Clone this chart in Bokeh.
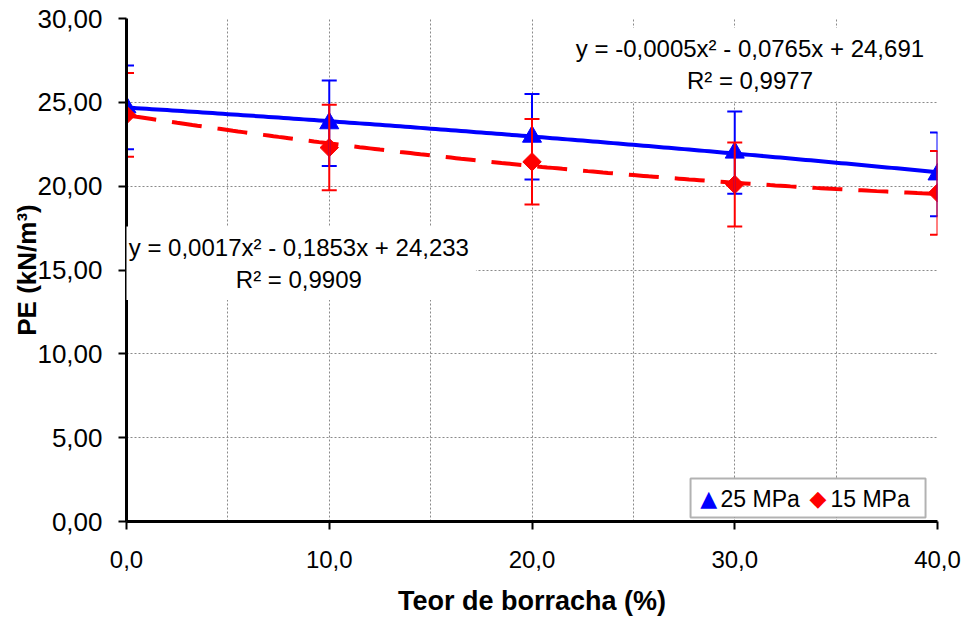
import numpy as np
from bokeh.plotting import figure
from bokeh.models import (Range1d, FixedTicker, ColumnDataSource, Whisker, TeeHead,
                          Label, Grid, BoxAnnotation)
from bokeh.embed import file_html
from bokeh.resources import INLINE

# ---- data ----
rubber_pct = [0, 10, 20, 30, 40]
pe_25mpa = [24.7, 23.75, 22.95, 22.0, 20.7]
err_25mpa = [2.5, 2.55, 2.55, 2.45, 2.5]
pe_15mpa = [24.25, 22.3, 21.45, 20.1, 19.6]
err_15mpa = [2.5, 2.55, 2.55, 2.5, 2.5]
# trendline coefficients printed on the chart (x^2, x, 1)
trend_25_coef = [-0.0005, -0.0765, 24.691]
trend_15_coef = [0.0017, -0.1853, 24.233]
trend_25_text = "y = -0,0005x² - 0,0765x + 24,691\nR² = 0,9977"
trend_15_text = "y = 0,0017x² - 0,1853x + 24,233\nR² = 0,9909"
x_ticks = [0, 10, 20, 30, 40]
x_tick_labels = ["0,0", "10,0", "20,0", "30,0", "40,0"]
y_ticks = [0, 5, 10, 15, 20, 25, 30]
y_tick_labels = ["0,00", "5,00", "10,00", "15,00", "20,00", "25,00", "30,00"]
x_grid = [0, 5, 10, 15, 20, 25, 30, 35, 40]
series_names = ["25 MPa", "15 MPa"]

FONT = "Liberation Sans"
BLUE = "#0000FF"
RED = "#FF0000"

p = figure(width=966, height=625, output_backend="svg", toolbar_location=None,
           x_range=Range1d(0, 40), y_range=Range1d(0, 30),
           min_border_left=126, min_border_right=29, min_border_top=18,
           min_border_bottom=104)
p.outline_line_color = None
p.background_fill_color = "white"
p.border_fill_color = "white"

# grids
p.xgrid.grid_line_color = None
p.ygrid.grid_line_color = None
gx = Grid(dimension=0, ticker=FixedTicker(ticks=x_grid), grid_line_color="#8a8a8a",
          grid_line_dash="2 2", grid_line_width=1)
gy = Grid(dimension=1, ticker=FixedTicker(ticks=y_ticks), grid_line_color="#8a8a8a",
          grid_line_dash="2 2", grid_line_width=1)
p.add_layout(gx)
p.add_layout(gy)

# axes
xa = p.xaxis[0]
xa.ticker = FixedTicker(ticks=x_ticks)
xa.major_label_overrides = {t: l for t, l in zip(x_ticks, x_tick_labels)}
xa.minor_tick_line_color = None
xa.major_tick_out = 8
xa.major_tick_in = 0
xa.major_tick_line_width = 2
xa.major_tick_line_color = "black"
xa.axis_line_width = 3
xa.axis_line_color = "black"
xa.major_label_text_font = FONT
xa.major_label_text_font_size = "24px"
xa.major_label_text_color = "black"
xa.major_label_standoff = 21
xa.axis_label = "Teor de borracha (%)"
xa.axis_label_text_font = FONT
xa.axis_label_text_font_style = "bold"
xa.axis_label_text_font_size = "27px"
xa.axis_label_text_color = "black"
xa.axis_label_standoff = 15

ya = p.yaxis[0]
ya.ticker = FixedTicker(ticks=y_ticks)
ya.major_label_overrides = {t: l for t, l in zip(y_ticks, y_tick_labels)}
ya.minor_tick_line_color = None
ya.major_tick_out = 8
ya.major_tick_in = 0
ya.major_tick_line_width = 2
ya.major_tick_line_color = "black"
ya.axis_line_width = 3
ya.axis_line_color = "black"
ya.major_label_text_font = FONT
ya.major_label_text_font_size = "26px"
ya.major_label_text_color = "black"
ya.major_label_standoff = 16
ya.axis_label = "PE (kN/m³)"
ya.axis_label_text_font = FONT
ya.axis_label_text_font_style = "bold"
ya.axis_label_text_font_size = "26px"
ya.axis_label_text_color = "black"
ya.axis_label_standoff = -8

# trendlines
xs = np.linspace(0, 40, 161)
p.line(xs, np.polyval(trend_25_coef, xs), line_color=BLUE, line_width=4)
p.line(xs, np.polyval(trend_15_coef, xs), line_color=RED, line_width=4, line_dash="30 16")

# error bars
src25 = ColumnDataSource(dict(x=rubber_pct, y=pe_25mpa,
                              lo=[v - e for v, e in zip(pe_25mpa, err_25mpa)],
                              hi=[v + e for v, e in zip(pe_25mpa, err_25mpa)]))
src15 = ColumnDataSource(dict(x=rubber_pct, y=pe_15mpa,
                              lo=[v - e for v, e in zip(pe_15mpa, err_15mpa)],
                              hi=[v + e for v, e in zip(pe_15mpa, err_15mpa)]))
for src, col in ((src25, BLUE), (src15, RED)):
    w = Whisker(source=src, base="x", lower="lo", upper="hi", dimension="height",
                line_color=col, line_width=2,
                upper_head=TeeHead(size=15, line_color=col, line_width=2),
                lower_head=TeeHead(size=15, line_color=col, line_width=2),
                level="glyph")
    p.add_layout(w)

p.scatter("x", "y", source=src25, marker="triangle", size=19,
          fill_color=BLUE, line_color=BLUE)
p.scatter("x", "y", source=src15, marker="square", size=13, angle=np.pi / 4,
          fill_color=RED, line_color=RED)

# trendline equation labels
lab25 = Label(x=30.75, y=27.25, text=trend_25_text, text_align="center",
              text_baseline="middle", text_font=FONT, text_font_size="24px",
              text_color="black", background_fill_color="white", padding=7)
lab15 = Label(x=8.5, y=15.4, text=trend_15_text, text_align="center",
              text_baseline="middle", text_font=FONT, text_font_size="24px",
              text_color="black", background_fill_color="white", padding=7)
p.add_layout(lab25)
p.add_layout(lab15)

# legend (box + symbols + texts)
p.add_layout(BoxAnnotation(left=27.82, right=39.41, bottom=0.24, top=2.56,
                           fill_color="white", fill_alpha=1,
                           line_color="black", line_width=2, level="overlay"))
legend_marks = [("▲", BLUE, 28.72, series_names[0], 29.3),
                ("◆", RED, 34.1, series_names[1], 34.72)]
for sym, col, xm, name, xt in legend_marks:
    p.add_layout(Label(x=xm, y=1.37, text=sym, text_align="center",
                       text_baseline="middle", text_font="DejaVu Sans",
                       text_font_size="22px", text_color=col, level="overlay"))
    p.add_layout(Label(x=xt, y=1.37, text=name, text_align="left",
                       text_baseline="middle", text_font=FONT,
                       text_font_size="23px", text_color="black", level="overlay"))

open("out.html", "w").write(file_html(p, INLINE))
